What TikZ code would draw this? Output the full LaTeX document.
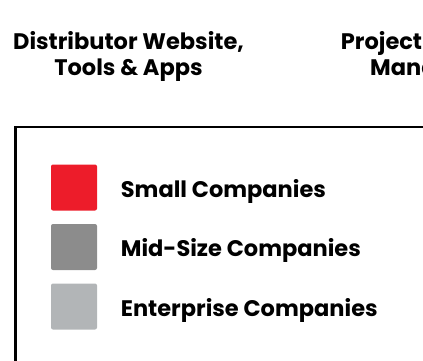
\documentclass[tikz,border=0pt]{standalone}
\usepackage{fontspec}
\setmainfont{Poppins}
\definecolor{smallred}{HTML}{ED1C2A}
\definecolor{midgray}{HTML}{8C8C8C}
\definecolor{entgray}{HTML}{B2B5B7}
\begin{document}
\begin{tikzpicture}[x=1pt, y=-1pt,
    heading/.style={font=\fontsize{22.5}{26}\selectfont\bfseries, inner sep=0pt},
    legendbox/.style={minimum size=46pt, inner sep=0pt, rounded corners=2pt},
    legendtext/.style={font=\fontsize{22.5}{26}\selectfont\bfseries, inner sep=0pt, anchor=base west}]
      \def\dy{59.5};
      \useasboundingbox (0,0) rectangle (423,361);
      \clip (0,0) rectangle (423,361);
      %
      \node[heading, anchor=base] (dist1) at (128.5,49.3) {Distributor Website,};
      \node[heading, anchor=base] (dist2) at (128.5,75.3) {Tools \& Apps};
      \node[heading, anchor=base west] (proj1) at (340.7,49.3) {Project};
      \node[heading, anchor=base west] (proj2) at (370,75.3) {Management};
      %
      \draw[line width=2.5pt] (15.5,400) |- (440,127);   % legend frame
      %
      \node[legendbox, fill=smallred] (small) at (74,187.5) {};
      \node[legendtext] (smalltext) at (120.7,197.3) {Small Companies};
      %
      \node[legendbox, fill=midgray] (mid) at (74,187.5+\dy) {};
      \node[legendtext] (midtext) at (120.7,197.3+\dy) {Mid-Size Companies};
      %
      \node[legendbox, fill=entgray] (ent) at (74,187.5+2*\dy) {};
      \node[legendtext] (enttext) at (120.7,197.3+2*\dy) {Enterprise Companies};
      %
    \end{tikzpicture}
\end{document}
